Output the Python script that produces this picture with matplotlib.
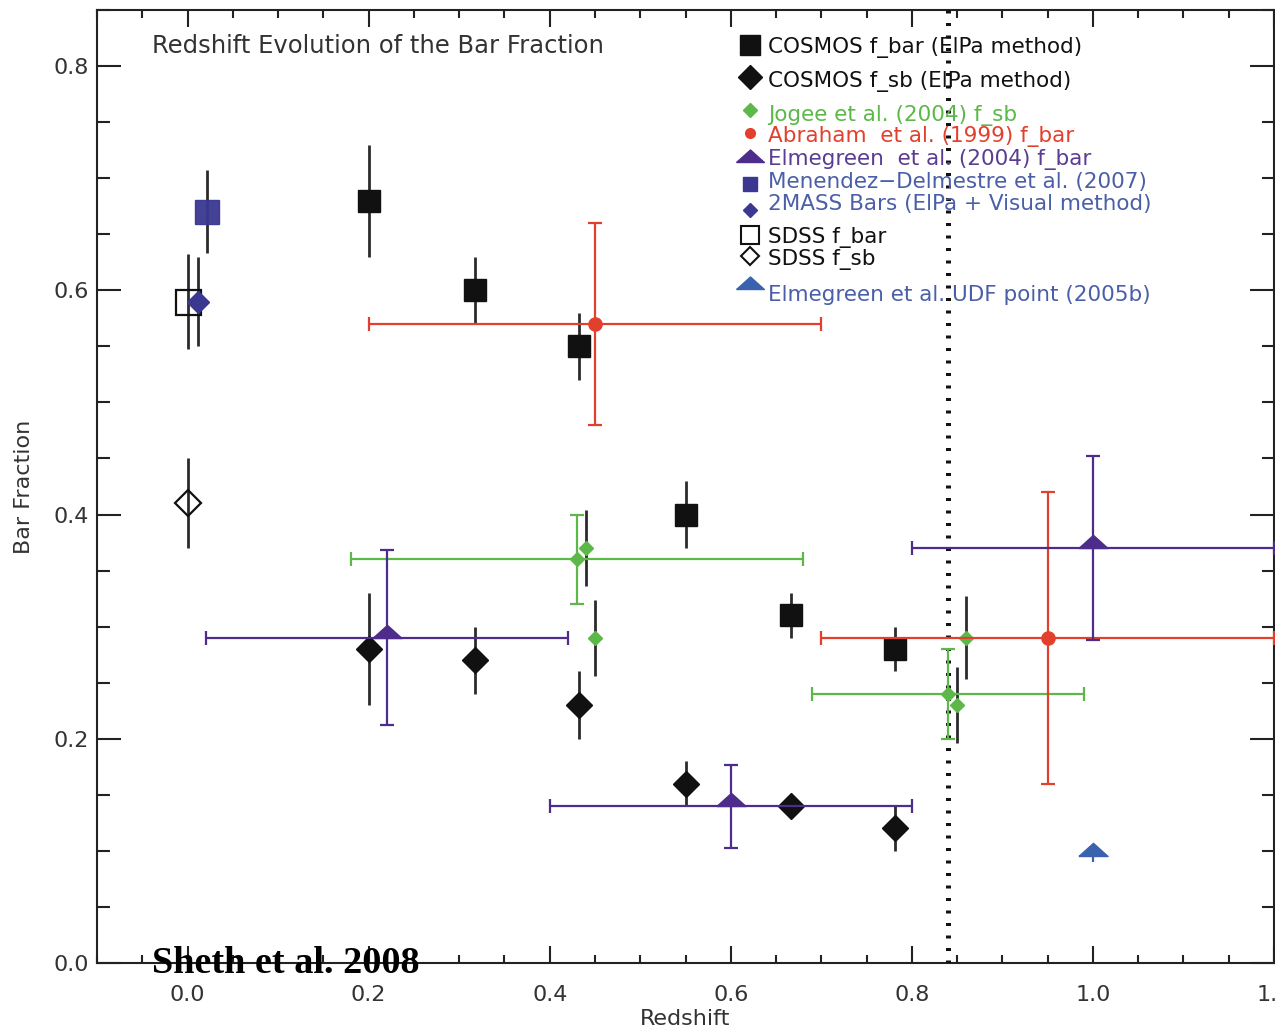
import numpy as np
import matplotlib
matplotlib.use("Agg")
import matplotlib.pyplot as plt
from matplotlib.ticker import MultipleLocator

# COSMOS (ElPa method)
cosmos_z = [0.20, 0.317, 0.432, 0.551, 0.666, 0.781]
cosmos_fbar = [0.68, 0.60, 0.55, 0.40, 0.31, 0.28]
cosmos_fbar_err = [0.05, 0.03, 0.03, 0.03, 0.02, 0.02]
cosmos_fsb = [0.28, 0.27, 0.23, 0.16, 0.14, 0.12]
cosmos_fsb_err = [0.05, 0.03, 0.03, 0.02, 0.01, 0.02]

# Jogee et al. (2004) f_sb
jogee_z = [0.43, 0.84]
jogee_zerr = [0.25, 0.15]
jogee_f = [0.36, 0.24]
jogee_ferr = [0.04, 0.04]
jogee2_z = [0.44, 0.45, 0.86, 0.85]
jogee2_f = [0.37, 0.29, 0.29, 0.23]
jogee2_ferr = [0.034, 0.034, 0.037, 0.034]

# Abraham et al. (1999) f_bar
abraham_z = [0.45, 0.95]
abraham_zerr = [0.25, 0.25]
abraham_f = [0.57, 0.29]
abraham_ferr = [0.09, 0.13]

# Elmegreen et al. (2004) f_bar
elm_z = [0.22, 0.60, 1.00]
elm_zerr = [0.20, 0.20, 0.20]
elm_f = [0.29, 0.14, 0.37]
elm_ferr = [0.078, 0.037, 0.082]

# local samples
menendez_z, menendez_f, menendez_err = [0.022], [0.67], [0.037]
twomass_z, twomass_f, twomass_err = [0.012], [0.59], [0.04]
sdss_z = [0.0]
sdss_fbar, sdss_fbar_err = [0.59], [0.042]
sdss_fsb, sdss_fsb_err = [0.41], [0.04]

# Elmegreen et al. UDF point (2005b)
udf_z, udf_f, udf_err = [1.0], [0.095], [0.005]

z_cut = 0.84

legend_labels = ["COSMOS f_bar (ElPa method)", "COSMOS f_sb (ElPa method)",
                 "Jogee et al. (2004) f_sb", "Abraham  et al. (1999) f_bar",
                 "Elmegreen  et al. (2004) f_bar", "Menendez\u2212Delmestre et al. (2007)",
                 "2MASS Bars (ElPa + Visual method)", "SDSS f_bar", "SDSS f_sb",
                 "Elmegreen et al. UDF point (2005b)"]

black = "#111111"
ebar = "#2b2b2b"
green = "#5cb848"
red = "#e2402c"
purple = "#4e2c8c"
navy = "#3a3890"
blue = "#3b62ae"
txt_blue = "#4a5fa8"
txt_purple = "#5a3c92"

tri = [(-1, 0), (1, 0), (0, 0.9), (-1, 0)]

fig = plt.figure(figsize=(12.75, 10.32), dpi=100)
ax = fig.add_axes([97 / 1275, 69 / 1032, 1177 / 1275, 953 / 1032])

# black error bars (no caps)
kw_k = dict(fmt="none", ecolor=ebar, elinewidth=2.0, capsize=0, zorder=2)
ax.errorbar(cosmos_z, cosmos_fbar, yerr=cosmos_fbar_err, **kw_k)
ax.errorbar(cosmos_z, cosmos_fsb, yerr=cosmos_fsb_err, **kw_k)
ax.errorbar(jogee2_z, jogee2_f, yerr=jogee2_ferr, **kw_k)
ax.errorbar(menendez_z, menendez_f, yerr=menendez_err, **kw_k)
ax.errorbar(twomass_z, twomass_f, yerr=twomass_err, **kw_k)
ax.errorbar(sdss_z, sdss_fbar, yerr=sdss_fbar_err, **kw_k)
ax.errorbar(sdss_z, sdss_fsb, yerr=sdss_fsb_err, **kw_k)

ax.plot(cosmos_z, cosmos_fbar, "s", color=black, ms=16.5, zorder=3)
ax.plot(cosmos_z, cosmos_fsb, "D", color=black, ms=13.5, zorder=3)
ax.plot(menendez_z, menendez_f, "s", color=navy, ms=17, zorder=3, alpha=0.95)
ax.plot(sdss_z, sdss_fbar, "s", mfc="none", mec=black, mew=1.6, ms=18, zorder=3)
ax.plot(sdss_z, sdss_fsb, "D", mfc="none", mec=black, mew=1.6, ms=13, zorder=3)
ax.plot(twomass_z, twomass_f, "D", color=navy, ms=11, zorder=4)

# colored error bars with caps
kw_c = dict(elinewidth=1.6, capsize=4.7, capthick=1.6, zorder=5)
ax.errorbar(jogee_z, jogee_f, xerr=jogee_zerr, yerr=jogee_ferr, fmt="D",
            color=green, ms=7.5, **kw_c)
ax.plot(jogee2_z, jogee2_f, "D", color=green, ms=7.5, zorder=5)
ax.errorbar(abraham_z, abraham_f, xerr=abraham_zerr, yerr=abraham_ferr, fmt="o",
            color=red, ms=9.5, **kw_c)
ax.errorbar(elm_z, elm_f, xerr=elm_zerr, yerr=elm_ferr, fmt="none",
            ecolor=purple, **kw_c)
ax.plot(elm_z, elm_f, marker=tri, ls="none", color=purple, ms=21, zorder=6)
ax.errorbar(udf_z, udf_f, yerr=[udf_err, [0]], fmt="none", ecolor=blue,
            elinewidth=1.6, zorder=5)
ax.plot(udf_z, udf_f, marker=tri, ls="none", color=blue, ms=21, zorder=6)

ax.axvline(z_cut, color=black, lw=3.6, ls=(0, (0.6, 1.9)), zorder=4)

ax.set_xlim(-0.1, 1.2)
ax.set_ylim(0.0, 0.85)
ax.xaxis.set_major_locator(MultipleLocator(0.2))
ax.xaxis.set_minor_locator(MultipleLocator(0.05))
ax.yaxis.set_major_locator(MultipleLocator(0.2))
ax.yaxis.set_minor_locator(MultipleLocator(0.05))
ax.xaxis.set_major_formatter(plt.FuncFormatter(lambda v, p: f"{v:.1f}"))
ax.yaxis.set_major_formatter(plt.FuncFormatter(lambda v, p: f"{v:.1f}"))

for s in ax.spines.values():
    s.set_linewidth(1.5)
    s.set_color("#222222")
ax.tick_params(axis="both", which="both", direction="in", top=True, right=True,
               width=1.5, color="#222222", labelcolor="#333333", labelsize=16)
ax.tick_params(axis="x", which="major", length=12.5, pad=16)
ax.tick_params(axis="x", which="minor", length=6)
ax.tick_params(axis="y", which="major", length=17, pad=6)
ax.tick_params(axis="y", which="minor", length=9)

ax.set_xlabel("Redshift", fontsize=16, color="#333333", labelpad=3)
ax.set_ylabel("Bar Fraction", fontsize=16, color="#333333", labelpad=14)

ax.text(0.047, 0.962, "Redshift Evolution of the Bar Fraction", transform=ax.transAxes,
        fontsize=17.5, color="#333333", va="center", ha="left")

# legend drawn by hand to keep the uneven row spacing
leg_y = [0.961, 0.925, 0.889, 0.867, 0.843, 0.820, 0.796, 0.761, 0.738, 0.701]
leg_my = [0.963, 0.930, 0.895, 0.871, 0.840, 0.817, 0.790, 0.764, 0.742, 0.707]
leg_colors = [black, black, green, red, txt_purple, txt_blue, txt_blue, black, black, txt_blue]
leg_markers = [dict(marker="s", color=black, ms=14),
               dict(marker="D", color=black, ms=12),
               dict(marker="D", color=green, ms=7),
               dict(marker="o", color=red, ms=7),
               dict(marker=tri, color=purple, ms=20),
               dict(marker="s", color=navy, ms=10),
               dict(marker="D", color=navy, ms=7),
               dict(marker="s", mfc="none", mec=black, mew=1.5, ms=13),
               dict(marker="D", mfc="none", mec=black, mew=1.5, ms=9),
               dict(marker=tri, color=blue, ms=20)]
for lab, ty, my, c, mk in zip(legend_labels, leg_y, leg_my, leg_colors, leg_markers):
    ax.plot([0.555], [my], ls="none", transform=ax.transAxes, zorder=7, clip_on=False, **mk)
    ax.text(0.570, ty, lab, transform=ax.transAxes, fontsize=15.5, color=c,
            va="center", ha="left", zorder=7)

fig.text(152 / 1275, 59 / 1032, "Sheth et al. 2008", fontsize=27.5,
         family="Liberation Serif", weight="bold", color="black",
         ha="left", va="baseline", zorder=10)

fig.savefig("out.png", dpi=100)
